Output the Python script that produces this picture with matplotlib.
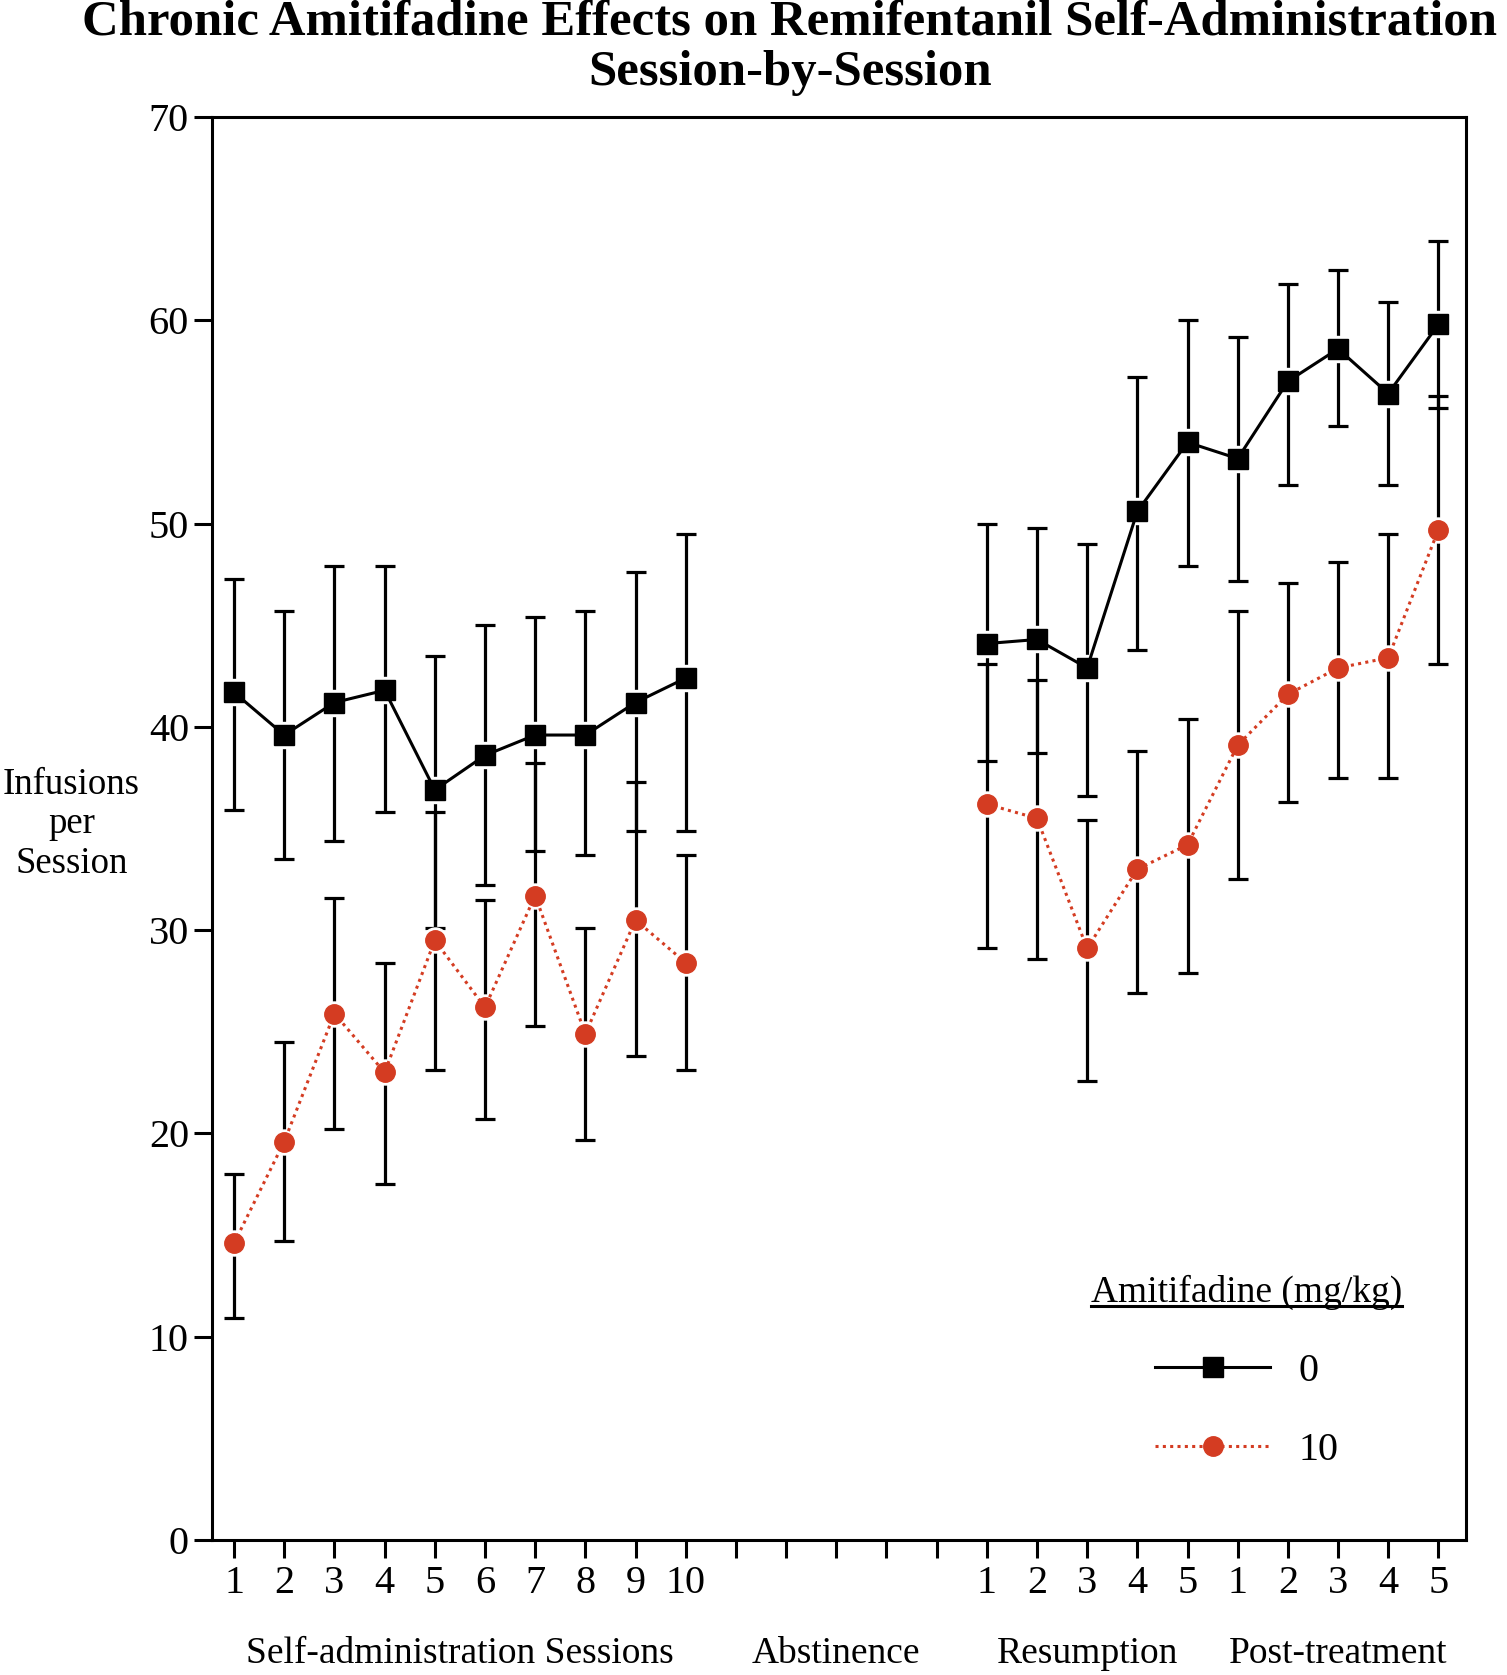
import matplotlib
matplotlib.use('Agg')
import matplotlib.pyplot as plt
import matplotlib.transforms as mtransforms
from matplotlib.lines import Line2D
import numpy as np

plt.rcParams['font.family'] = ['Liberation Serif', 'DejaVu Serif']

# x axis: 10 self-administration sessions, 5 abstinence days (no data),
# 5 resumption sessions, 5 post-treatment sessions
sa_ticks = ['1', '2', '3', '4', '5', '6', '7', '8', '9', '10']
abst_ticks = ['', '', '', '', '']
res_ticks = ['1', '2', '3', '4', '5']
post_ticks = ['1', '2', '3', '4', '5']
phase_names = ['Self-administration Sessions', 'Abstinence', 'Resumption', 'Post-treatment']

# Amitifadine 0 mg/kg: means and error bar ends
veh_sa = [41.7, 39.6, 41.2, 41.8, 36.9, 38.6, 39.6, 39.6, 41.2, 42.4]
veh_sa_hi = [47.3, 45.7, 47.9, 47.9, 43.5, 45.0, 45.4, 45.7, 47.6, 49.5]
veh_sa_lo = [35.9, 33.5, 34.4, 35.8, 30.1, 32.2, 33.9, 33.7, 34.9, 34.9]
# resumption 1-5 then post-treatment 1-5
veh_rp = [44.1, 44.3, 42.9, 50.6, 54.0, 53.2, 57.0, 58.6, 56.4, 59.8]
veh_rp_hi = [50.0, 49.8, 49.0, 57.2, 60.0, 59.2, 61.8, 62.5, 60.9, 63.9]
veh_rp_lo = [38.3, 38.7, 36.6, 43.8, 47.9, 47.2, 51.9, 54.8, 51.9, 55.7]

# Amitifadine 10 mg/kg
ami_sa = [14.6, 19.6, 25.9, 23.0, 29.5, 26.2, 31.7, 24.9, 30.5, 28.4]
ami_sa_hi = [18.0, 24.5, 31.6, 28.4, 35.8, 31.5, 38.2, 30.1, 37.3, 33.7]
ami_sa_lo = [10.9, 14.7, 20.2, 17.5, 23.1, 20.7, 25.3, 19.7, 23.8, 23.1]
ami_rp = [36.2, 35.5, 29.1, 33.0, 34.2, 39.1, 41.6, 42.9, 43.4, 49.7]
ami_rp_hi = [43.1, 42.3, 35.4, 38.8, 40.4, 45.7, 47.1, 48.1, 49.5, 56.3]
ami_rp_lo = [29.1, 28.6, 22.6, 26.9, 27.9, 32.5, 36.3, 37.5, 37.5, 43.1]

red = '#d43c22'
dots = (0, (1, 1.4))

tick_labels = sa_ticks + abst_ticks + res_ticks + post_ticks
n_sa = len(sa_ticks)
n_gap = len(abst_ticks)
x_all = np.arange(1, len(tick_labels) + 1)
x_sa = x_all[:n_sa]
x_rp = x_all[n_sa + n_gap:]

fig = plt.figure(figsize=(15.07, 16.75), dpi=100)
ax = fig.add_axes([0.141, 0.0806, 0.8318, 0.8495])


def draw(x, mean, lo, hi, color, marker, ms, ls):
    y = np.array(mean)
    err = [y - np.array(lo), np.array(hi) - y]
    ax.errorbar(x, y, yerr=err, fmt='none', ecolor='black', elinewidth=2.3,
                capsize=7.5, capthick=2.3, zorder=2)
    # small white halo so the bars stop short of the markers
    ax.plot(x, y, ls='none', marker=marker, ms=ms + 4, mfc='white', mec='white', zorder=3)
    ax.plot(x, y, color=color, ls=ls, lw=2.2, marker=marker, ms=ms,
            mfc=color, mec=color, zorder=4)


draw(x_sa, veh_sa, veh_sa_lo, veh_sa_hi, 'black', 's', 15, '-')
draw(x_rp, veh_rp, veh_rp_lo, veh_rp_hi, 'black', 's', 15, '-')
draw(x_sa, ami_sa, ami_sa_lo, ami_sa_hi, red, 'o', 14, dots)
draw(x_rp, ami_rp, ami_rp_lo, ami_rp_hi, red, 'o', 14, dots)

ax.set_xlim(0.57, 25.55)
ax.set_ylim(0, 70)
ax.set_yticks(np.arange(0, 71, 10))
ax.set_xticks(x_all)
ax.set_xticklabels(tick_labels)
ax.tick_params(axis='both', direction='out', length=13, width=2.2, labelsize=29)
ax.tick_params(axis='x', pad=5)
ax.tick_params(axis='y', pad=4)
for s in ax.spines.values():
    s.set_linewidth(2.2)

# phase names under the tick labels
trans = mtransforms.blended_transform_factory(ax.transData, fig.transFigure)
phase_x = [x_sa.mean(), n_sa + (n_gap + 1) / 2, x_rp[:5].mean(), x_rp[5:].mean()]
for px, name in zip(phase_x, phase_names):
    ax.text(px, 0.0125, name, transform=trans, ha='center', va='center', fontsize=27)

fig.text(0.0474, 0.508, 'Infusions\nper\nSession', ha='center', va='center',
         fontsize=26.5, linespacing=1.2)

fig.text(0.524, 0.9715, 'Chronic Amitifadine Effects on Remifentanil Self-Administration\nSession-by-Session',
         ha='center', va='center', fontsize=36.5, fontweight='bold', linespacing=1.12)

h0 = Line2D([], [], color='black', lw=2.2, marker='s', ms=15)
h1 = Line2D([], [], color=red, lw=2.2, ls=dots, marker='o', ms=14)
leg = ax.legend([h0, h1], ['0', '10'], title='Amitifadine (mg/kg)', loc='center',
                bbox_to_anchor=(0.825, 0.118), frameon=False, fontsize=29,
                title_fontsize=27, handlelength=2.85, handletextpad=0.7,
                labelspacing=1.05)

# underline the legend title
fig.canvas.draw()
bb = leg.get_title().get_window_extent(fig.canvas.get_renderer())
inv = fig.transFigure.inverted()
(x0, y0), (x1, _) = inv.transform([(bb.x0, bb.y0 + 4), (bb.x1, bb.y0 + 4)])
fig.add_artist(Line2D([x0, x1], [y0, y0], color='black', lw=2.2, transform=fig.transFigure))

fig.savefig('out.png', dpi=100)
